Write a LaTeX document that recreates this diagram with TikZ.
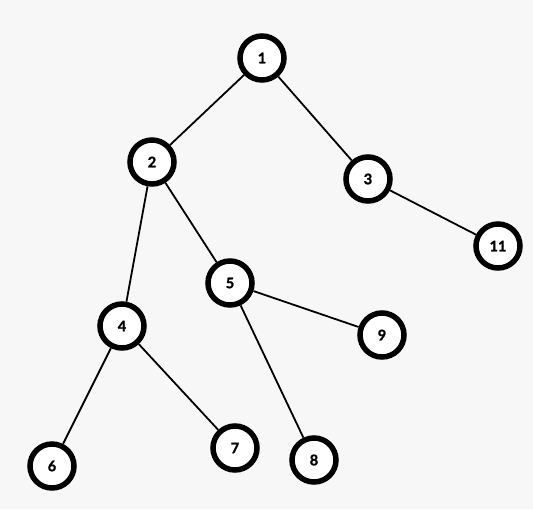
\documentclass[tikz,border=0pt]{standalone}
\usepackage{fontspec}
\setmainfont{Lato}
\newfontfamily\heavyfont[FakeBold=1.5]{Lato Bold}
\begin{document}
\begin{tikzpicture}[x=1pt,y=-1pt,
  vert/.style={circle,draw=black,line width=5.5pt,fill=white,minimum size=44pt,inner sep=0pt,font=\heavyfont\fontsize{14.5}{14.5}\selectfont},
  edge/.style={line width=1.8pt,black}]
\fill[fill={rgb,255:red,247;green,247;blue,247}] (0,0) rectangle (533,509);
\useasboundingbox (0,0) rectangle (533,509);
\node[vert] (n1) at (262,58) {1};
\node[vert] (n2) at (152,162) {2};
\node[vert] (n3) at (368,179) {3};
\node[vert] (n11) at (498,246) {11};
\node[vert] (n5) at (230,283) {5};
\node[vert] (n4) at (122,326) {4};
\node[vert] (n9) at (382,335) {9};
\node[vert] (n6) at (52,466) {6};
\node[vert] (n7) at (235,448) {7};
\node[vert] (n8) at (314,460) {8};
\draw[edge] (n1) -- (n2);
\draw[edge] (n1) -- (n3);
\draw[edge] (n3) -- (n11);
\draw[edge] (n2) -- (n4);
\draw[edge] (n2) -- (n5);
\draw[edge] (n5) -- (n9);
\draw[edge] (n5) -- (n8);
\draw[edge] (n4) -- (n6);
\draw[edge] (n4) -- (n7);
\end{tikzpicture}
\end{document}
